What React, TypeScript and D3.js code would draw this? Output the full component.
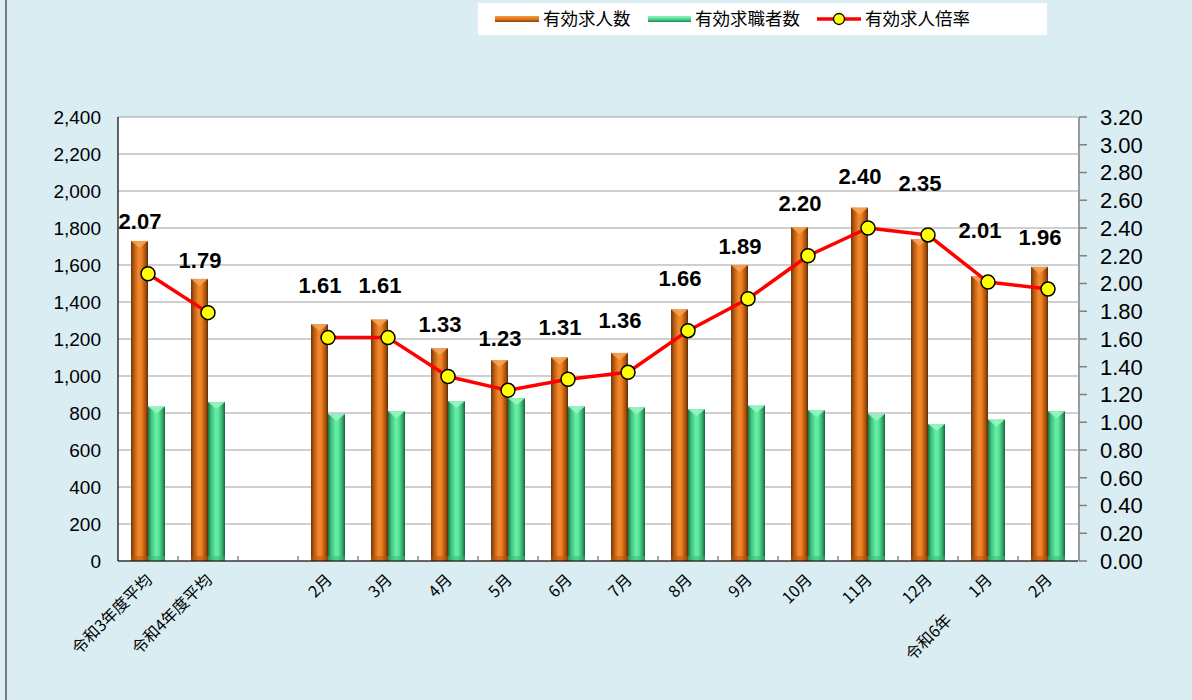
import React from 'react';
import * as d3 from 'd3';

const categories: string[] = ['令和3年度平均', '令和4年度平均', '', '2月', '3月', '4月', '5月', '6月', '7月', '8月', '9月', '10月', '11月', '12月', '令和6年\u3000\u30001月', '2月'];
const openings: (number | null)[] = [1730, 1525, null, 1280, 1305, 1150, 1085, 1100, 1125, 1360, 1600, 1805, 1910, 1740, 1540, 1590];
const seekers: (number | null)[] = [835, 860, null, 795, 810, 865, 880, 835, 830, 820, 840, 815, 795, 740, 765, 810];
const ratios: (number | null)[] = [2.07, 1.79, null, 1.61, 1.61, 1.33, 1.23, 1.31, 1.36, 1.66, 1.89, 2.2, 2.4, 2.35, 2.01, 1.96];
const leftTicks: number[] = d3.range(0, 2401, 200);
const rightTicks: number[] = d3.range(0, 3.2001, 0.2);
const legendLabels: string[] = ['有効求人数', '有効求職者数', '有効求人倍率'];

const W = 1192, H = 700;
const plot = { left: 118, right: 1078, top: 117, bottom: 561 };
const BAR_W = 17;
const FONT = '"Liberation Sans", Arial, "Noto Sans CJK JP", sans-serif';
const FONT_JP = '"Noto Sans CJK JP", "Liberation Sans", sans-serif';

export default function App() {
  const x = d3.scaleBand<number>().domain(categories.map((_, i) => i)).range([plot.left, plot.right]).padding(0);
  const cx = (i: number) => (x(i) as number) + x.bandwidth() / 2;
  const yL = d3.scaleLinear().domain([0, 2400]).range([plot.bottom, plot.top]);
  const yR = d3.scaleLinear().domain([0, 3.2]).range([plot.bottom, plot.top]);
  const fmtL = d3.format(',');
  const fmtR = d3.format('.2f');

  const line = d3.line<number | null>()
    .defined((d) => d !== null)
    .x((_, i) => cx(i))
    .y((d) => yR(d as number));

  const bar = (i: number, v: number | null, kind: 'o' | 'g') => {
    if (v === null) return null;
    const bx = kind === 'o' ? cx(i) - BAR_W : cx(i);
    const top = yL(v);
    const h = plot.bottom - top;
    return (
      <g key={kind + i}>
        <rect x={bx} y={top} width={BAR_W} height={h} fill={`url(#grad-${kind})`} />
        <polygon
          points={`${bx},${top} ${bx + BAR_W},${top} ${bx + BAR_W / 2},${top + 7}`}
          fill={kind === 'o' ? '#f7a458' : '#9af7c6'}
          opacity={0.85}
        />
        <rect x={bx} y={plot.bottom - 5} width={BAR_W} height={5} fill={kind === 'o' ? '#b85a14' : '#3cb878'} opacity={0.5} />
      </g>
    );
  };

  return (
    <svg width={W} height={H} style={{ position: 'absolute', left: 0, top: 0 }} fontFamily={FONT}>
      <defs>
        <linearGradient id="grad-o" x1="0" x2="1" y1="0" y2="0">
          <stop offset="0%" stopColor="#6e3408" />
          <stop offset="18%" stopColor="#b55a14" />
          <stop offset="45%" stopColor="#f38a2c" />
          <stop offset="62%" stopColor="#ee7e1e" />
          <stop offset="85%" stopColor="#a8520f" />
          <stop offset="100%" stopColor="#5e2c06" />
        </linearGradient>
        <linearGradient id="grad-g" x1="0" x2="1" y1="0" y2="0">
          <stop offset="0%" stopColor="#1d6e42" />
          <stop offset="18%" stopColor="#3cbf7a" />
          <stop offset="45%" stopColor="#66eea6" />
          <stop offset="62%" stopColor="#5ae69c" />
          <stop offset="85%" stopColor="#34a868" />
          <stop offset="100%" stopColor="#17603a" />
        </linearGradient>
        <linearGradient id="leg-o" x1="0" x2="0" y1="0" y2="1">
          <stop offset="0%" stopColor="#f59a48" />
          <stop offset="50%" stopColor="#e07818" />
          <stop offset="100%" stopColor="#8a440c" />
        </linearGradient>
        <linearGradient id="leg-g" x1="0" x2="0" y1="0" y2="1">
          <stop offset="0%" stopColor="#8ff5c0" />
          <stop offset="50%" stopColor="#50dc94" />
          <stop offset="100%" stopColor="#248050" />
        </linearGradient>
      </defs>

      <rect x={0} y={0} width={W} height={H} fill="#daedf3" />
      <line x1={6} x2={6} y1={0} y2={H} stroke="#7a7a7a" strokeWidth={2} />

      {/* legend */}
      <g>
        <rect x={478} y={3} width={569} height={32} fill="#ffffff" />
        <rect x={495} y={16} width={44} height={6} fill="url(#leg-o)" />
        <text x={543} y={19} dy="0.36em" fontSize={17.5} fontFamily={FONT_JP}>{legendLabels[0]}</text>
        <rect x={648} y={16} width={43} height={6} fill="url(#leg-g)" />
        <text x={695} y={19} dy="0.36em" fontSize={17.5} fontFamily={FONT_JP}>{legendLabels[1]}</text>
        <line x1={817} x2={861} y1={19} y2={19} stroke="#ff0000" strokeWidth={3.5} />
        <circle cx={839} cy={19} r={5.5} fill="#ffff00" stroke="#000" strokeWidth={1.3} />
        <text x={865} y={19} dy="0.36em" fontSize={17.5} fontFamily={FONT_JP}>{legendLabels[2]}</text>
      </g>

      {/* plot area */}
      <rect x={plot.left} y={plot.top} width={plot.right - plot.left} height={plot.bottom - plot.top} fill="#ffffff" />
      {leftTicks.map((t) => (
        <line key={'g' + t} x1={plot.left} x2={plot.right} y1={yL(t)} y2={yL(t)} stroke="#a0a0a0" strokeWidth={1.2} />
      ))}

      {/* bars */}
      {categories.map((_, i) => bar(i, openings[i], 'o'))}
      {categories.map((_, i) => bar(i, seekers[i], 'g'))}

      {/* axes */}
      <line x1={plot.left} x2={plot.left} y1={plot.top} y2={plot.bottom} stroke="#000" strokeWidth={1.2} />
      <line x1={plot.left} x2={plot.right} y1={plot.bottom} y2={plot.bottom} stroke="#000" strokeWidth={1.2} />
      {d3.range(1, categories.length).map((i) => (
        <line key={'xt' + i} x1={x(i) as number} x2={x(i) as number} y1={plot.bottom} y2={plot.bottom - 5} stroke="#555" strokeWidth={1} />
      ))}
      <line x1={plot.right + 1} x2={plot.right + 1} y1={plot.top} y2={plot.bottom} stroke="#808080" strokeWidth={1.5} />
      {rightTicks.map((t) => (
        <line key={'rt' + t} x1={plot.right + 1} x2={plot.right + 9} y1={yR(t)} y2={yR(t)} stroke="#808080" strokeWidth={1.5} />
      ))}

      {leftTicks.map((t) => (
        <text key={'lt' + t} x={101} y={yL(t)} dy="0.36em" textAnchor="end" fontSize={19} fill="#000">{fmtL(t)}</text>
      ))}
      {rightTicks.map((t) => (
        <text key={'rl' + t} x={1100} y={yR(t)} dy="0.36em" textAnchor="start" fontSize={22} fill="#000">{fmtR(t)}</text>
      ))}

      {/* x labels */}
      {categories.map((c, i) => c === '' ? null : (
        <text
          key={'xl' + i}
          transform={`translate(${cx(i) + 1},${plot.bottom + 16}) rotate(-45)`}
          textAnchor="end"
          dy="0.35em"
          fontSize={16}
          fontFamily={FONT_JP}
          fill="#000"
        >{c}</text>
      ))}

      {/* line */}
      <path d={line(ratios) || ''} fill="none" stroke="#ff0000" strokeWidth={3.5} strokeLinejoin="round" />
      {ratios.map((r, i) => r === null ? null : (
        <circle key={'pt' + i} cx={cx(i)} cy={yR(r)} r={7} fill="#ffff00" stroke="#000" strokeWidth={1.5} />
      ))}
      {ratios.map((r, i) => r === null ? null : (
        <text key={'vl' + i} x={cx(i) - 8} y={yR(r) - 52} dy="0.35em" textAnchor="middle" fontSize={22} fontWeight="bold" fill="#000">{fmtR(r)}</text>
      ))}
    </svg>
  );
}
